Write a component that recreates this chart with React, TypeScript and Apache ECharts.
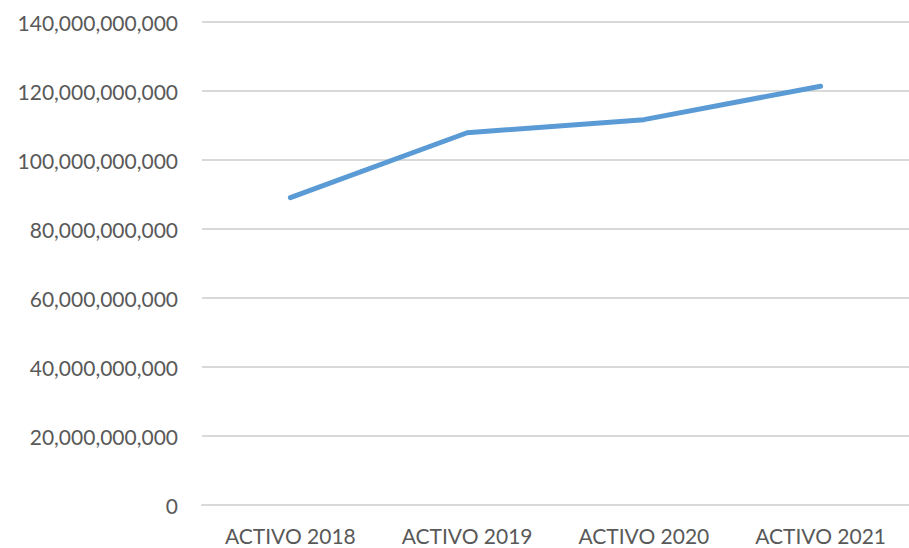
import React, { useEffect, useRef } from "react";
import * as echarts from "echarts";

const categories = ["ACTIVO 2018", "ACTIVO 2019", "ACTIVO 2020", "ACTIVO 2021"];
const values = [89070000000, 107900000000, 111700000000, 121400000000];
const yMin = 0;
const yMax = 140000000000;
const yInterval = 20000000000;

export default function App() {
  const ref = useRef<HTMLDivElement>(null);
  useEffect(() => {
    document.body.style.margin = "0";
    const chart = echarts.init(ref.current!, null, { renderer: "svg" });
    chart.setOption({
      animation: false,
      backgroundColor: "#ffffff",
      grid: { left: 202, top: 22, width: 712, height: 483, containLabel: false },
      xAxis: {
        type: "category",
        data: categories,
        boundaryGap: true,
        axisLine: { show: true, lineStyle: { color: "#D9D9D9", width: 2 } },
        axisTick: { show: false },
        axisLabel: { color: "#595959", fontFamily: "Lato", fontSize: 21, margin: 20 },
      },
      yAxis: {
        type: "value",
        min: yMin,
        max: yMax,
        interval: yInterval,
        axisLine: { show: false },
        axisTick: { show: false },
        splitLine: { lineStyle: { color: "#D9D9D9", width: 2 } },
        axisLabel: {
          color: "#595959",
          fontFamily: "Lato",
          fontSize: 21,
          margin: 24,
          formatter: (v: number) => v.toLocaleString("en-US"),
        },
      },
      series: [
        {
          type: "line",
          data: values,
          symbol: "none",
          lineStyle: { color: "#5B9BD5", width: 5, cap: "round", join: "round" },
        },
      ],
    });
    return () => chart.dispose();
  }, []);
  return <div ref={ref} style={{ width: 909, height: 548 }} />;
}
